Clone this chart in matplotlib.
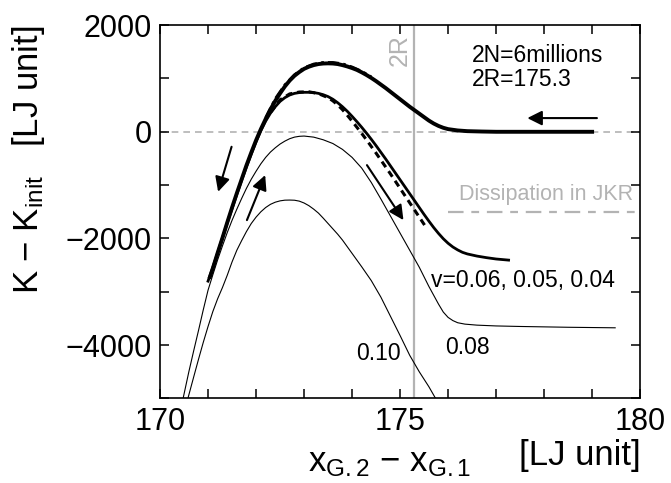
import numpy as np
import matplotlib
matplotlib.use("Agg")
import matplotlib.pyplot as plt

plt.rcParams['font.family'] = ['Liberation Sans', 'DejaVu Sans']
plt.rcParams['mathtext.fontset'] = 'custom'
plt.rcParams['mathtext.rm'] = 'Liberation Sans'
plt.rcParams['mathtext.it'] = 'Liberation Sans:italic'

# approach curve (all velocities overlap), thick solid
app_x = [171.04, 171.1, 171.2, 171.3, 171.4, 171.5, 171.6, 171.7, 171.8, 171.9,
         172.0, 172.1, 172.2, 172.3, 172.4, 172.5, 172.6, 172.7, 172.8, 172.9,
         173.0, 173.1, 173.2, 173.3, 173.4, 173.5, 173.6, 173.7, 173.8, 173.9,
         174.0, 174.1, 174.2, 174.3, 174.4, 174.5, 174.6, 174.7, 174.8, 174.9,
         175.0, 175.1, 175.2, 175.3, 175.4, 175.5, 175.6, 175.7, 175.8, 175.9,
         176.0, 176.2, 176.4, 176.7, 177.0, 179.0]
app_y = [-2720, -2560, -2270, -1990, -1700, -1420, -1150, -890, -630, -390,
         -160, 50, 240, 420, 580, 720, 850, 960, 1050, 1120,
         1180, 1220, 1250, 1270, 1280, 1283, 1280, 1270, 1250, 1225,
         1195, 1160, 1115, 1065, 1010, 950, 885, 820, 750, 680,
         610, 540, 470, 405, 340, 275, 210, 155, 110, 75,
         50, 25, 12, 5, 0, 0]

# approach v=0.06, dash-dot (visible near the peak)
app06_x = [172.2, 172.4, 172.6, 172.8, 173.0, 173.2, 173.4, 173.6, 173.8, 174.0, 174.2, 174.4]
app06_y = [260, 620, 880, 1070, 1200, 1270, 1300, 1300, 1275, 1215, 1135, 1030]

# retraction v=0.04, solid
ret04_x = [171.0, 171.1, 171.2, 171.3, 171.4, 171.5, 171.6, 171.7, 171.8, 171.9,
           172.0, 172.1, 172.2, 172.3, 172.4, 172.5, 172.6, 172.7, 172.8, 172.9,
           173.0, 173.1, 173.2, 173.3, 173.4, 173.5, 173.6, 173.7, 173.8, 173.9,
           174.0, 174.1, 174.2, 174.3, 174.4, 174.5, 174.6, 174.7, 174.8, 174.9,
           175.0, 175.1, 175.2, 175.3, 175.4, 175.5, 175.6, 175.7, 175.8, 175.9,
           176.0, 176.1, 176.2, 176.3, 176.4, 176.6, 176.8, 177.0, 177.26]
ret04_y = [-2800, -2540, -2270, -1990, -1710, -1440, -1170, -910, -660, -420,
           -190, 20, 200, 350, 470, 570, 640, 690, 720, 735,
           740, 740, 735, 720, 695, 660, 610, 545, 470, 385,
           290, 190, 85, -25, -140, -260, -385, -510, -640, -770,
           -900, -1030, -1160, -1290, -1420, -1550, -1675, -1795, -1905, -2005,
           -2090, -2160, -2215, -2260, -2290, -2330, -2360, -2385, -2406]

# retraction v=0.05, dashed
ret05_x = [172.3, 172.5, 172.7, 172.9, 173.1, 173.3, 173.5, 173.6, 173.7, 173.8,
           173.9, 174.0, 174.1, 174.2, 174.3, 174.4, 174.5, 174.6, 174.7, 174.8,
           174.9, 175.0, 175.1, 175.2, 175.3, 175.4, 175.5, 175.56]
ret05_y = [360, 600, 710, 745, 750, 715, 640, 580, 505, 415,
           310, 200, 85, -30, -150, -275, -400, -530, -660, -790,
           -925, -1060, -1195, -1330, -1465, -1600, -1735, -1815]

# retraction v=0.08, thin
ret08_x = [170.48, 170.6, 170.7, 170.8, 170.9, 171.0, 171.1, 171.2, 171.3, 171.4,
           171.5, 171.6, 171.7, 171.8, 171.9, 172.0, 172.1, 172.2, 172.3, 172.4,
           172.5, 172.6, 172.7, 172.8, 172.9, 173.0, 173.2, 173.4, 173.6, 173.8,
           174.0, 174.2, 174.4, 174.6, 174.8, 175.0, 175.2, 175.4, 175.6, 175.8,
           175.9, 176.0, 176.1, 176.2, 176.35, 176.6, 177.0, 177.5, 178.5, 179.48]
ret08_y = [-5000, -4500, -4110, -3730, -3340, -2970, -2680, -2400, -2140, -1890,
           -1660, -1450, -1250, -1060, -890, -740, -600, -480, -380, -300,
           -230, -175, -130, -100, -85, -80, -100, -150, -220, -330,
           -480, -680, -950, -1260, -1580, -1900, -2220, -2540, -2900, -3230,
           -3380, -3480, -3540, -3580, -3606, -3625, -3640, -3650, -3665, -3675]

# retraction v=0.10, thin
ret10_x = [170.58, 170.7, 170.8, 170.9, 171.0, 171.1, 171.2, 171.3, 171.4, 171.5,
           171.6, 171.7, 171.8, 171.9, 172.0, 172.1, 172.2, 172.3, 172.4, 172.5,
           172.6, 172.7, 172.8, 172.9, 173.0, 173.1, 173.2, 173.3, 173.4, 173.5,
           173.6, 173.7, 173.8, 174.0, 174.2, 174.4, 174.6, 174.8, 175.0, 175.2,
           175.4, 175.6, 175.74]
ret10_y = [-5000, -4600, -4270, -3950, -3650, -3370, -3130, -2920, -2690, -2440,
           -2220, -2040, -1870, -1720, -1600, -1500, -1420, -1360, -1320, -1295,
           -1282, -1280, -1283, -1300, -1335, -1385, -1450, -1525, -1620, -1720,
           -1820, -1920, -2030, -2280, -2530, -2790, -3100, -3460, -3820, -4190,
           -4500, -4780, -5000]

two_r = 175.3
jkr = -1500

fig = plt.figure(figsize=(6.71, 4.83), dpi=100)
ax = fig.add_axes([0.2385, 0.175, 0.7155, 0.773])

gray = '#b3b3b3'
ax.axhline(0, color=gray, lw=1.2, ls=(0, (4, 3)), zorder=1)
ax.axvline(two_r, color=gray, lw=1.6, zorder=1)
ax.plot([176.0, 180.0], [jkr, jkr], color=gray, lw=1.6,
        ls=(0, (7, 3.5, 3.5, 3.5)), zorder=1)

ax.plot(ret10_x, ret10_y, color='k', lw=0.8, zorder=2)
ax.plot(ret08_x, ret08_y, color='k', lw=0.8, zorder=2)
ax.plot(ret05_x, ret05_y, color='k', lw=2.2, ls=(0, (2.2, 1.6)), zorder=3)
ax.plot(ret04_x, ret04_y, color='k', lw=2.0, zorder=3)
ax.plot(app06_x, app06_y, color='k', lw=2.0, ls=(0, (4, 1.5, 1, 1.5)), zorder=3)
ax.plot(app_x, app_y, color='k', lw=2.8, zorder=4)

arrow = dict(arrowstyle='-|>', lw=1.5, color='k', mutation_scale=22, shrinkA=0, shrinkB=0)
ax.annotate('', xy=(177.65, 257), xytext=(179.1, 257), arrowprops=arrow)
ax.annotate('', xy=(171.21, -1125), xytext=(171.49, -281), arrowprops=arrow)
ax.annotate('', xy=(172.19, -812), xytext=(171.81, -1656), arrowprops=arrow)
ax.annotate('', xy=(175.07, -1656), xytext=(174.31, -625), arrowprops=arrow)

ax.text(175.24, 1830, '2R', rotation=90, color=gray, fontsize=18, ha='right', va='top')
ax.text(176.5, 1650, '2N=6millions\n2R=175.3', fontsize=16.5, ha='left', va='top',
        linespacing=1.05)
ax.text(178.05, -1380, 'Dissipation in JKR', color=gray, fontsize=15.5, ha='center', va='bottom')
ax.text(177.55, -2780, 'v=0.06, 0.05, 0.04', fontsize=16.5, ha='center', va='center')
ax.text(176.4, -4050, '0.08', fontsize=16.5, ha='center', va='center')
ax.text(174.55, -4150, '0.10', fontsize=16.5, ha='center', va='center')

ax.set_xlim(170, 180)
ax.set_ylim(-5000, 2000)
ax.set_xticks([170, 175, 180])
ax.set_xticks(np.arange(170, 181, 1), minor=True)
ax.set_yticks([-4000, -2000, 0, 2000])
ax.set_yticks(np.arange(-5000, 2001, 1000), minor=True)
ax.tick_params(which='both', direction='in', top=True, right=True, length=6.5, width=1.1)
ax.tick_params(which='major', labelsize=22, pad=6)
for s in ax.spines.values():
    s.set_linewidth(1.2)

fig.text(0.043, 1 - 160 / 483, r'K $-$ K$_{\rm init}$   [LJ unit]', rotation=90,
         fontsize=25, ha='center', va='center')
fig.text(0.58, 0.008, r'x$_{\rm G.2}$ $-$ x$_{\rm G.1}$', fontsize=25, ha='center', va='bottom')
fig.text(0.955, 0.022, '[LJ unit]', fontsize=25, ha='right', va='bottom')

fig.savefig('out.png', dpi=100)
